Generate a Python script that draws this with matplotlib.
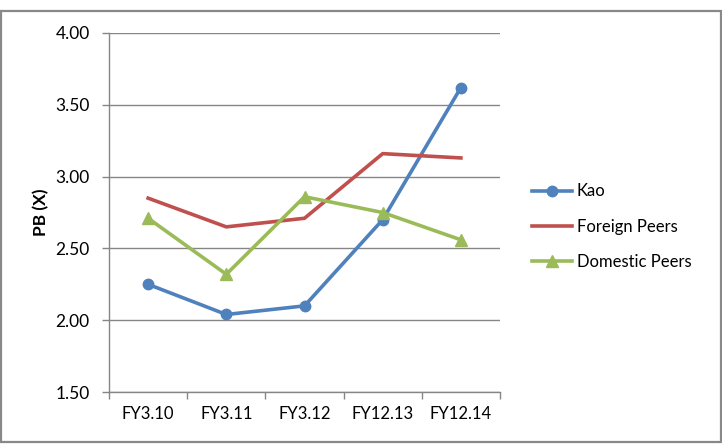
import matplotlib.pyplot as plt
from matplotlib.patches import Rectangle
import numpy as np

plt.rcParams['font.family'] = ['Lato', 'DejaVu Sans']

years = ["FY3.10", "FY3.11", "FY3.12", "FY12.13", "FY12.14"]
kao = [2.25, 2.04, 2.10, 2.70, 3.62]
foreign = [2.85, 2.65, 2.71, 3.16, 3.13]
domestic = [2.71, 2.32, 2.86, 2.75, 2.56]

blue = "#4F81BD"
red = "#C0504D"
green = "#9BBB59"
grid = "#868686"

fig = plt.figure(figsize=(7.22, 4.44), dpi=100)
ax = fig.add_axes([0.151, 0.117, 0.5415, 0.8087])

x = np.arange(len(years))
ax.plot(x, kao, color=blue, lw=2.6, marker="o", ms=7.5, label="Kao")
ax.plot(x, foreign, color=red, lw=2.6, label="Foreign Peers")
ax.plot(x, domestic, color=green, lw=2.6, marker="^", ms=8, label="Domestic Peers")

ax.set_xlim(-0.5, len(years) - 0.5)
ax.set_ylim(1.5, 4.0)
ax.set_yticks(np.arange(1.5, 4.01, 0.5))
ax.set_yticklabels([f"{v:.2f}" for v in np.arange(1.5, 4.01, 0.5)], fontsize=12.5)
ax.set_xticks(x)
ax.set_xticklabels(years, fontsize=12)
ax.set_xticks(np.arange(-0.5, len(years)), minor=True)
ax.tick_params(axis="x", which="major", length=0, pad=10)
ax.tick_params(axis="x", which="minor", length=5, color=grid, width=1)
ax.tick_params(axis="y", length=5, color=grid, width=1, pad=9)

ax.yaxis.grid(True, color=grid, lw=1)
ax.set_axisbelow(True)
for s in ["top", "right"]:
    ax.spines[s].set_visible(False)
for s in ["left", "bottom"]:
    ax.spines[s].set_color(grid)
    ax.spines[s].set_linewidth(1)

ax.set_ylabel("PB (X)", fontsize=12.5, fontweight="bold", labelpad=4)

fig.legend(loc="upper left", bbox_to_anchor=(0.7167, 0.6205), frameon=False,
           fontsize=12, handlelength=2.4, handletextpad=0.25, labelspacing=1.15)

fig.add_artist(Rectangle((0.002, 0.0045), 0.996, 0.9707, transform=fig.transFigure,
                         fill=False, edgecolor="#888888", lw=1.6))

fig.savefig("out.png", dpi=100)
